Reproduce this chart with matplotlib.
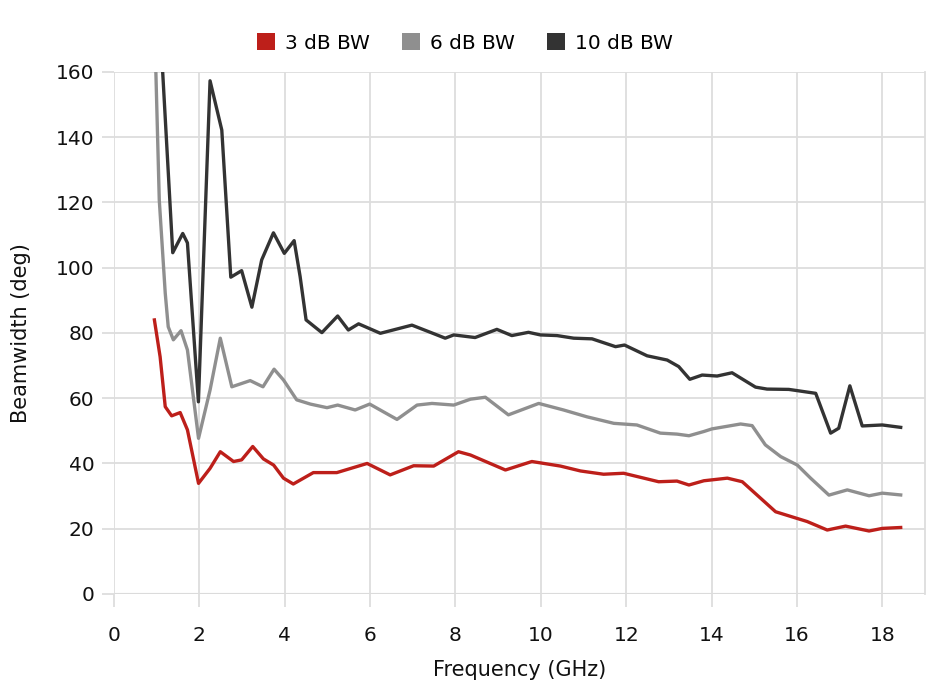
import matplotlib.pyplot as plt
from matplotlib.patches import Patch

plt.rcParams['font.family'] = ['DejaVu Sans']

# Frequency (GHz) / beamwidth (deg)
f_3db = [0.94, 1.08, 1.20, 1.35, 1.55, 1.72, 1.98, 2.25, 2.49, 2.80, 2.99, 3.25, 3.50,
         3.74, 3.97, 4.20, 4.67, 5.22, 5.93, 6.47, 7.02, 7.49, 8.07, 8.35, 9.17, 9.79,
         10.46, 10.93, 11.47, 11.94, 12.76, 13.19, 13.47, 13.82, 14.37, 14.72, 15.11,
         15.50, 16.24, 16.71, 17.14, 17.69, 18.0, 18.47]
bw_3db = [84.5, 72.7, 57.4, 54.6, 55.6, 50.3, 33.9, 38.5, 43.6, 40.6, 41.1, 45.2, 41.4,
          39.5, 35.5, 33.7, 37.2, 37.2, 40.0, 36.5, 39.3, 39.2, 43.6, 42.6, 38.0, 40.6,
          39.2, 37.7, 36.7, 37.0, 34.4, 34.6, 33.4, 34.7, 35.5, 34.4, 29.8,
          25.2, 22.2, 19.6, 20.8, 19.3, 20.1, 20.4]

f_6db = [0.95, 1.06, 1.20, 1.27, 1.39, 1.57, 1.72, 1.98, 2.25, 2.49, 2.76, 3.19, 3.49,
         3.75, 3.97, 4.28, 4.60, 4.99, 5.24, 5.65, 5.99, 6.63, 7.10, 7.45, 7.96, 8.35,
         8.70, 9.24, 9.95, 10.53, 11.08, 11.71, 12.25, 12.80, 13.19, 13.47, 13.82, 14.01,
         14.68, 14.95, 15.26, 15.62, 16.01, 16.32, 16.75, 17.18, 17.69, 18.0, 18.47]
bw_6db = [175, 120.8, 92.2, 81.9, 77.9, 80.7, 74.8, 47.7, 62.5, 78.4, 63.5, 65.4, 63.5,
          68.9, 65.6, 59.5, 58.2, 57.1, 57.9, 56.4, 58.2, 53.5, 57.9, 58.4, 57.9, 59.7,
          60.3, 54.9, 58.4, 56.4, 54.3, 52.3, 51.8, 49.3, 49.0, 48.5, 49.8, 50.6,
          52.1, 51.6, 45.7, 42.1, 39.5, 35.5, 30.3, 31.9, 30.1, 30.9, 30.3]

f_10db = [1.05, 1.14, 1.376, 1.61, 1.72, 1.977, 2.25, 2.525, 2.736, 2.99, 3.23, 3.46,
          3.735, 3.99, 4.22, 4.36, 4.50, 4.87, 5.24, 5.49, 5.73, 6.24, 6.98, 7.45, 7.76,
          7.96, 8.46, 8.97, 9.32, 9.71, 9.99, 10.38, 10.77, 11.2, 11.75, 11.96, 12.49,
          12.96, 13.23, 13.49, 13.78, 14.13, 14.48, 15.03, 15.30, 15.81, 16.44, 16.79,
          16.98, 17.24, 17.53, 18.0, 18.47]
bw_10db = [230, 160, 104.6, 110.5, 107.6, 58.9, 157.3, 142.2, 97.1, 99.1, 87.9, 102.4,
           110.7, 104.4, 108.3, 97.3, 84.0, 80.1, 85.2, 80.9, 82.8, 79.9, 82.4, 80.0, 78.4,
           79.4, 78.6, 81.1, 79.2, 80.2, 79.4, 79.2, 78.4, 78.2, 75.8, 76.3, 73.0,
           71.7, 69.7, 65.8, 67.1, 66.8, 67.8, 63.4, 62.8, 62.7, 61.5, 49.3,
           50.8, 63.8, 51.5, 51.8, 51.0]

labels = ['3 dB BW', '6 dB BW', '10 dB BW']
colors = ['#bd1f1a', '#8f8f8f', '#333333']

fig = plt.figure(figsize=(9.3, 6.96), dpi=100)
ax = fig.add_axes([0.1226, 0.1466, 0.872, 0.75])

for fx, bw, c in zip([f_3db, f_6db, f_10db], [bw_3db, bw_6db, bw_10db], colors):
    ax.plot(fx, bw, color=c, lw=2.4, solid_joinstyle='round', solid_capstyle='butt')

ax.set_xlim(0, 19)
ax.set_ylim(0, 160)
ax.set_xticks(range(0, 19, 2))
ax.set_yticks(range(0, 161, 20))
ax.grid(True, color='#dddddd', lw=1.3)
ax.set_axisbelow(True)
for side in ['top', 'left', 'bottom']:
    ax.spines[side].set_visible(False)
ax.spines['right'].set_color('#dddddd')
ax.spines['right'].set_linewidth(1.3)
ax.axhline(0, color='#cccccc', lw=1.5, zorder=0)
ax.tick_params(colors='#dddddd', labelcolor='#111111', labelsize=14.5,
               length=9, width=1.3)
ax.tick_params(axis='x', pad=14)
ax.tick_params(axis='y', pad=5)

ax.set_xlabel('Frequency (GHz)', fontsize=15, color='#111111', labelpad=11)
ax.set_ylabel('Beamwidth (deg)', fontsize=15, color='#111111', labelpad=18)

handles = [Patch(facecolor=c, edgecolor='none') for c in colors]
fig.legend(handles, labels, loc='upper center', bbox_to_anchor=(0.5, 0.978), ncol=3,
           frameon=False, fontsize=14.5, handlelength=0.9, handleheight=0.9,
           handletextpad=0.5, columnspacing=1.6)

fig.savefig('out.png', dpi=100)
